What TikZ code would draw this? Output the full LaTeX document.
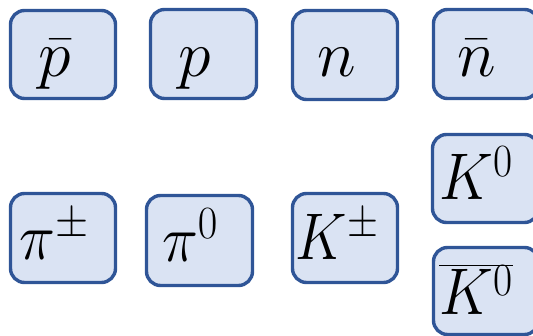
\documentclass[tikz,border=0pt]{standalone}
\usepackage{fix-cm}
\definecolor{boxfill}{HTML}{DAE3F3}
\definecolor{boxline}{HTML}{2F5597}
\tikzset{
  pbox/.style={draw=boxline, fill=boxfill, line width=3.4pt, rounded corners=14pt, inner sep=0pt},
  plabel/.style={anchor=base, inner sep=0pt, font=\fontsize{66}{72}\selectfont}
}
\begin{document}
\begin{tikzpicture}[x=1pt,y=-1pt]
\useasboundingbox (0,0) rectangle (533,336);
\clip (0,0) rectangle (533,336);
% row 1
\node[pbox, minimum width=105pt, minimum height=88pt] (b1) at (63,54.5) {};
\node[pbox, minimum width=106pt, minimum height=89pt] (b2) at (203.5,54) {};
\node[pbox, minimum width=105pt, minimum height=89pt] (b3) at (345,55) {};
\node[pbox, minimum width=105pt, minimum height=89pt] (b4) at (486,54) {};
% row 2
\node[pbox, minimum width=105pt, minimum height=89pt] (b5) at (63,238) {};
\node[pbox, minimum width=106pt, minimum height=90pt] (b6) at (199.5,240.5) {};
\node[pbox, minimum width=105pt, minimum height=89pt] (b7) at (345,238) {};
\node[pbox, minimum width=106pt, minimum height=88pt] (b8) at (485.5,178.5) {};
\node[pbox, minimum width=105pt, minimum height=87pt] (b9) at (486,291) {};
% labels
\node[plabel] (t1) at (55,77) {$\bar{p}$};
\node[plabel] (t2) at (195,77) {$p$};
\node[plabel] (t3) at (337,77) {$n$};
\node[plabel] (t4) at (477,77) {$\bar{n}$};
\node[plabel, xscale=0.92] (t5) at (54,260) {$\pi^{\pm}$};
\node[plabel, xscale=0.92] (t6) at (190,262) {$\pi^{0}$};
\node[plabel, xscale=0.86] (t7) at (337,260) {$K^{\pm}$};
\node[plabel, xscale=0.9] (t8) at (476,200) {$K^{0}$};
\node[plabel, xscale=0.9] (t9) at (476,315) {$\overline{K^{0}}$};
\end{tikzpicture}
\end{document}
